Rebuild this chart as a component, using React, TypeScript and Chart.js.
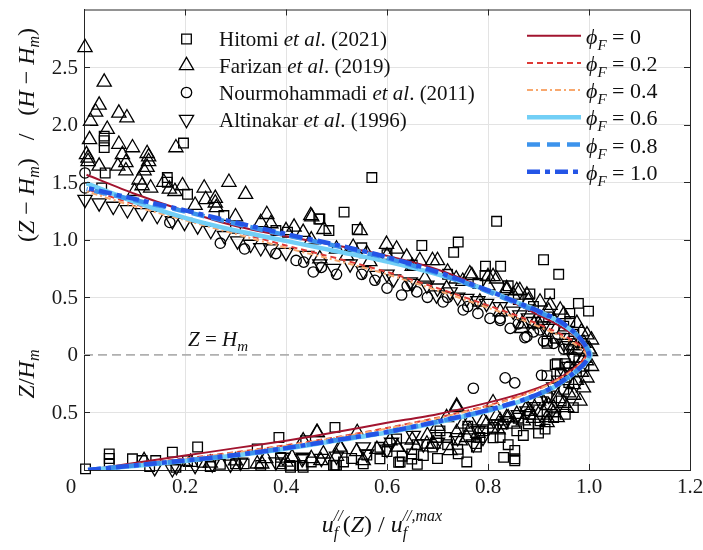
import React, { useEffect, useRef } from 'react';
import { Chart, registerables } from 'chart.js';
Chart.register(...registerables);

const FONT = "'Liberation Serif', 'Times New Roman', serif";

const xTicks = [0, 0.2, 0.4, 0.6, 0.8, 1.0, 1.2];
const xTickLabels = ['0', '0.2', '0.4', '0.6', '0.8', '1.0', '1.2'];
const yTicks = [-0.5, 0, 0.5, 1.0, 1.5, 2.0, 2.5];
const yTickLabels = ['0.5', '0', '0.5', '1.0', '1.5', '2.0', '2.5'];

const seriesNames = ['Hitomi', 'Farizan', 'Nourmohammadi', 'Altinakar'];
const seriesYears = ['(2021)', '(2019)', '(2011)', '(1996)'];

const hitomi: number[][] = [
  [0.04, 1.9], [0.04, 1.86], [0.04, 1.8], [0.042, 1.58], [0.035, 1.45], [0.165, 1.54], [0.165, 1.5],
  [0.205, 1.395], [0.197, 1.84], [0.277, 1.21], [0.465, 1.18], [0.485, 1.08], [0.403, 1.065],
  [0.515, 1.24], [0.57, 1.54], [0.467, 1.18], [0.541, 1.09], [0.817, 1.16], [0.741, 0.98],
  [0.732, 0.89], [0.669, 0.95], [0.91, 0.826], [0.94, 0.7], [0.795, 0.77], [0.825, 0.77],
  [0.794, 0.69], [0.922, 0.53], [0.883, 0.53], [0.979, 0.447], [0.999, 0.38], [0.962, 0.36],
  [0.917, 0.12], [0.933, 0.145], [0.962, 0.29], [0.97, 0.12], [0.96, 0.05], [0.98, -0.05],
  [0.937, -0.076], [0.953, -0.076], [0.943, -0.171], [0.917, -0.18], [0.917, -0.372],
  [0.969, -0.458], [0.953, -0.516], [0.9, -0.6], [0.857, -0.66], [0.831, -0.89], [0.853, -0.83],
  [0.853, -0.92], [0.758, -0.93], [0.741, -0.86], [0.81, -0.72], [0.777, -0.77], [0.883, -0.516],
  [0.93, -0.545], [0.497, -0.63], [0.434, -0.976], [0.494, -0.96], [0.514, -0.93], [0.553, -0.947],
  [0.586, -0.903], [0.586, -0.803], [0.619, -0.731], [0.623, -0.933], [0.649, -0.86], [0.672, -0.875],
  [0.649, -0.905], [0.853, -0.903], [0.784, -0.717], [0.824, -0.717], [0.777, -0.8], [0.81, -0.63],
  [0.698, -0.717], [0.718, -0.717], [0.705, -0.66], [0.903, -0.573], [0.913, -0.645], [0.917, -0.516],
  [0.933, -0.085], [0.003, -0.99], [0.05, -0.86], [0.05, -0.9], [0.05, -0.95], [0.096, -0.903],
  [0.115, -0.918], [0.142, -0.918], [0.175, -0.846], [0.182, -0.976], [0.225, -0.8], [0.205, -0.918],
  [0.234, -0.933], [0.3, -0.947], [0.317, -0.947], [0.343, -0.817], [0.386, -0.717], [0.389, -0.89],
  [0.389, -0.947], [0.409, -0.976], [0.432, -0.96], [0.439, -0.746], [0.497, -0.96], [0.626, -0.93],
  [0.408, -0.96], [0.5, -0.96], [0.917, 0.1],
  [0.76, -0.62], [0.79, -0.66], [0.83, -0.6], [0.86, -0.55], [0.88, -0.6], [0.84, -0.78], [0.87, -0.7],
  [0.9, -0.68], [0.72, -0.78], [0.74, -0.82], [0.69, -0.8], [0.66, -0.78], [0.6, -0.84], [0.56, -0.87],
  [0.53, -0.9], [0.63, -0.88], [0.7, -0.9], [0.66, -0.95], [0.45, -0.93], [0.35, -0.96], [0.27, -0.95],
  [0.25, -0.97], [0.13, -0.97], [0.95, -0.3], [0.96, -0.24], [0.975, -0.15], [0.99, -0.1], [0.945, -0.4],
  [0.95, 0.25], [0.97, 0.18], [0.985, 0.1], [0.92, 0.33], [0.89, 0.42], [0.86, 0.48], [0.84, 0.6],
  [0.78, 0.62], [0.72, 0.7], [0.65, 0.78], [0.6, 0.87], [0.55, 0.93], [0.3, 1.1], [0.38, 1.08],
];

const farizan: number[][] = [
  [0.002, 2.67], [0.04, 2.37], [0.03, 2.17], [0.023, 2.11], [0.013, 2.03], [0.069, 2.1], [0.085, 2.06],
  [0.046, 1.96], [0.011, 1.87], [0.069, 1.83], [0.096, 1.8], [0.076, 1.74], [0.005, 1.74], [0.008, 1.71],
  [0.008, 1.68], [0.083, 1.67], [0.067, 1.64], [0.03, 1.64], [0.083, 1.6], [0.125, 1.75], [0.128, 1.72],
  [0.128, 1.68], [0.125, 1.63], [0.119, 1.6], [0.109, 1.52], [0.1, 1.42], [0.115, 1.47], [0.132, 1.45],
  [0.158, 1.5], [0.169, 1.44], [0.195, 1.47], [0.182, 1.8], [0.238, 1.45], [0.287, 1.5], [0.32, 1.395],
  [0.26, 1.36], [0.26, 1.32], [0.262, 1.28], [0.241, 1.35], [0.362, 1.22], [0.37, 1.14], [0.449, 1.21],
  [0.475, 1.09], [0.416, 1.11], [0.451, 1.2], [0.547, 1.08], [0.434, 1.065], [0.533, 0.935],
  [0.599, 0.96], [0.619, 0.92], [0.639, 0.85], [0.665, 0.82], [0.69, 0.82], [0.7, 0.82], [0.764, 0.705],
  [0.8, 0.68], [0.817, 0.66], [0.837, 0.56], [0.857, 0.56], [0.877, 0.52], [0.891, 0.27], [0.868, 0.27],
  [0.9, 0.27], [0.923, 0.43], [0.467, 0.834], [0.566, 0.81], [0.52, 0.86], [0.675, 0.66], [0.737, 0.66],
  [0.718, 0.576], [0.784, 0.46], [0.824, 0.375], [0.867, 0.23], [0.768, 0.69], [0.81, 0.68],
  [0.837, 0.576], [0.863, 0.56], [0.903, 0.46], [0.943, 0.39], [0.976, 0.274], [0.996, 0.174],
  [1.005, 0.13], [1.003, 0.03], [1.005, -0.1], [0.996, -0.2], [0.989, -0.286], [0.982, -0.4],
  [0.956, -0.458], [0.937, -0.545], [0.917, -0.545], [0.877, -0.458], [0.87, -0.573], [0.837, -0.545],
  [0.797, -0.6], [0.764, -0.573], [0.738, -0.458], [0.718, -0.545], [0.725, -0.83], [0.758, -0.717],
  [0.969, -0.257], [0.738, -0.444], [0.81, -0.415], [0.461, -0.674], [0.434, -0.746], [0.541, -0.674],
  [0.745, -0.746], [0.692, -0.774], [0.679, -0.774], [0.791, -0.573], [0.824, -0.573], [0.84, -0.546],
  [0.857, -0.516], [0.883, -0.49], [0.507, -0.8], [0.474, -0.86], [0.553, -0.918], [0.606, -0.746],
  [0.738, -0.674], [0.764, -0.65], [0.817, -0.53], [0.917, -0.588], [0.93, -0.502], [0.119, -0.918],
  [0.211, -0.933], [0.343, -0.947], [0.352, -0.947], [0.412, -0.89], [0.462, -0.674], [0.469, -0.918],
  [0.508, -0.817], [0.98, 0.05], [0.99, -0.03], [0.97, -0.12], [0.95, -0.2], [0.96, -0.33],
  [0.94, -0.38], [0.92, -0.44], [0.9, -0.4], [0.95, 0.22], [0.93, 0.3], [0.97, 0.08], [0.985, 0.2],
  [0.99, 0.1], [1.0, 0.05], [0.995, -0.05], [0.985, -0.15], [0.975, -0.22], [0.97, -0.35], [0.95, -0.42],
  [0.93, -0.46], [0.91, -0.5], [0.89, -0.55], [0.85, -0.6], [0.82, -0.65], [0.78, -0.68], [0.75, -0.6],
  [0.7, -0.62], [0.68, -0.7], [0.65, -0.74], [0.62, -0.8], [0.58, -0.82], [0.54, -0.84], [0.5, -0.88],
  [0.45, -0.9], [0.4, -0.93], [0.3, -0.92], [0.25, -0.94], [0.36, -0.9],
  [0.95, 0.35], [0.92, 0.38], [0.88, 0.47], [0.85, 0.52], [0.8, 0.6], [0.75, 0.64], [0.72, 0.72],
  [0.65, 0.77], [0.6, 0.86], [0.56, 0.88], [0.5, 0.92], [0.45, 1.0], [0.4, 1.08], [0.35, 1.15],
  [0.3, 1.2], [0.22, 1.3], [0.18, 1.42],
];

const nourmohammadi: number[][] = [
  [0.002, 1.58], [0.002, 1.45], [0.17, 1.15], [0.318, 0.92], [0.454, 0.72], [0.576, 0.648],
  [0.629, 0.52], [0.659, 0.547], [0.711, 0.46], [0.751, 0.39], [0.804, 0.317], [0.824, 0.317],
  [0.844, 0.23], [0.877, 0.16], [0.903, 0.217], [0.435, 0.806], [0.824, 0.3], [0.873, 0.15],
  [0.834, -0.2], [0.853, -0.243], [0.771, -0.29], [0.906, -0.177], [0.5, 0.7], [0.38, 0.88],
  [0.27, 0.97], [0.6, 0.58], [0.68, 0.5], [0.78, 0.36], [0.91, 0.12], [0.95, 0.05],
  [0.42, 0.82], [0.47, 0.76], [0.55, 0.7], [0.64, 0.6], [0.72, 0.5], [0.76, 0.42], [0.86, 0.27],
  [0.89, 0.2], [0.93, 0.1], [0.97, -0.02], [0.96, -0.1],
];

const altinakar: number[][] = [
  [0.002, 1.35], [0.03, 1.32], [0.058, 1.29], [0.086, 1.26], [0.115, 1.235], [0.145, 1.21],
  [0.175, 1.165], [0.199, 1.15], [0.225, 1.12], [0.251, 1.08], [0.278, 1.036], [0.304, 0.99],
  [0.33, 0.96], [0.37, 0.92], [0.35, 0.93], [0.4, 0.89], [0.441, 0.864], [0.467, 0.79], [0.494, 0.75],
  [0.527, 0.79], [0.553, 0.73], [0.58, 0.69], [0.613, 0.66], [0.646, 0.634], [0.679, 0.605],
  [0.698, 0.52], [0.725, 0.547], [0.758, 0.49], [0.797, 0.447], [0.824, 0.418], [0.863, 0.347],
  [0.89, 0.289], [0.917, 0.23], [0.94, 0.15], [0.96, 0.08], [0.97, -0.03], [0.95, -0.15],
  [0.93, -0.28], [0.434, -0.89], [0.553, -0.8], [0.609, -0.76], [0.652, -0.7], [0.672, -0.774],
  [0.771, -0.774], [0.79, -0.717], [0.837, -0.573], [0.877, -0.487], [0.903, -0.4], [0.56, -0.86],
  [0.175, -0.99], [0.254, -0.947], [0.183, -0.97], [0.432, -0.903], [0.31, -0.933], [0.394, -0.89],
  [0.6, 0.7], [0.65, 0.62], [0.7, 0.58], [0.74, 0.5], [0.78, 0.47], [0.85, 0.38], [0.88, 0.32],
  [0.91, 0.25], [0.95, 0.1], [0.96, -0.1], [0.94, -0.22], [0.92, -0.35], [0.89, -0.45], [0.86, -0.52],
  [0.82, -0.6], [0.78, -0.66], [0.74, -0.72], [0.7, -0.76], [0.64, -0.8], [0.6, -0.82], [0.5, -0.88],
  [0.47, -0.9], [0.38, -0.93], [0.29, -0.95], [0.22, -0.96], [0.14, -0.98],
];

// model curves, from the bed (bottom) through the maximum to the top
const phiLabels = ['0', '0.2', '0.4', '0.6', '0.8', '1.0'];
const phi0: number[][] = [
  [0.008, -1.0], [0.1, -0.94], [0.2, -0.875], [0.3, -0.81], [0.4, -0.745], [0.5, -0.67], [0.6, -0.59],
  [0.7, -0.515], [0.8, -0.415], [0.87, -0.33], [0.92, -0.25], [0.96, -0.15], [0.985, -0.06], [0.995, 0],
  [0.99, 0.07], [0.97, 0.17], [0.93, 0.28], [0.88, 0.39], [0.82, 0.52], [0.75, 0.66], [0.68, 0.77],
  [0.6, 0.86], [0.5, 0.95], [0.4, 1.03], [0.3, 1.12], [0.2, 1.25], [0.1, 1.4], [0.005, 1.565],
];
const phi02: number[][] = [
  [0.008, -1.0], [0.1, -0.95], [0.2, -0.9], [0.3, -0.845], [0.4, -0.785], [0.5, -0.715], [0.6, -0.635],
  [0.7, -0.545], [0.8, -0.44], [0.87, -0.345], [0.92, -0.255], [0.96, -0.155], [0.985, -0.065], [0.995, 0],
  [0.99, 0.05], [0.97, 0.12], [0.93, 0.21], [0.87, 0.32], [0.8, 0.43], [0.7, 0.58], [0.6, 0.72],
  [0.5, 0.84], [0.4, 0.95], [0.3, 1.07], [0.2, 1.19], [0.1, 1.31], [0.005, 1.44],
];
const phi04: number[][] = [
  [0.008, -1.0], [0.1, -0.955], [0.2, -0.905], [0.3, -0.85], [0.4, -0.79], [0.5, -0.72], [0.6, -0.64],
  [0.7, -0.55], [0.8, -0.445], [0.87, -0.35], [0.92, -0.26], [0.96, -0.16], [0.985, -0.07], [0.995, 0],
  [0.99, 0.03], [0.97, 0.1], [0.93, 0.19], [0.87, 0.3], [0.8, 0.41], [0.7, 0.56], [0.6, 0.7],
  [0.5, 0.82], [0.4, 0.93], [0.3, 1.05], [0.2, 1.17], [0.1, 1.29], [0.005, 1.42],
];
const phi06: number[][] = [
  [0.008, -1.0], [0.1, -0.965], [0.2, -0.922], [0.3, -0.874], [0.4, -0.815], [0.5, -0.745], [0.6, -0.675],
  [0.7, -0.585], [0.8, -0.485], [0.87, -0.395], [0.92, -0.305], [0.96, -0.195], [0.99, -0.085], [1.003, 0],
  [0.995, 0.07], [0.98, 0.15], [0.96, 0.23], [0.94, 0.29], [0.9, 0.38], [0.85, 0.47], [0.8, 0.56],
  [0.7, 0.7], [0.6, 0.81], [0.5, 0.9], [0.4, 0.99], [0.3, 1.08], [0.2, 1.19], [0.1, 1.33], [0.005, 1.49],
];
const phi08: number[][] = [
  [0.008, -1.0], [0.1, -0.96], [0.2, -0.918], [0.3, -0.87], [0.4, -0.81], [0.5, -0.74], [0.6, -0.67],
  [0.7, -0.58], [0.8, -0.48], [0.87, -0.39], [0.92, -0.3], [0.96, -0.19], [0.99, -0.08], [1.0, 0],
  [0.99, 0.1], [0.97, 0.2], [0.94, 0.29], [0.9, 0.37], [0.85, 0.46], [0.8, 0.55], [0.7, 0.71],
  [0.6, 0.84], [0.5, 0.945], [0.4, 1.04], [0.3, 1.14], [0.2, 1.245], [0.1, 1.345], [0.005, 1.44],
];
const phi10: number[][] = [
  [0.008, -1.0], [0.1, -0.96], [0.2, -0.918], [0.3, -0.87], [0.4, -0.81], [0.5, -0.74], [0.6, -0.67],
  [0.7, -0.58], [0.8, -0.48], [0.87, -0.39], [0.92, -0.3], [0.96, -0.19], [0.99, -0.08], [1.0, 0],
  [0.99, 0.1], [0.97, 0.2], [0.94, 0.3], [0.9, 0.38], [0.85, 0.47], [0.8, 0.56], [0.7, 0.72],
  [0.6, 0.85], [0.5, 0.955], [0.4, 1.05], [0.3, 1.15], [0.2, 1.255], [0.1, 1.355], [0.005, 1.45],
];
const refLineX = [0, 1.2];
const refLineY = [0, 0];

const curveData = [phi0, phi02, phi04, phi06, phi08, phi10];
const curveStyles = [
  { color: '#A2142F', width: 2, dash: [] as number[] },
  { color: '#DE3A36', width: 2, dash: [6, 4] },
  { color: '#F8A86E', width: 2, dash: [6, 3, 2, 3] },
  { color: '#72CFF6', width: 4.5, dash: [] as number[] },
  { color: '#3C93EC', width: 4.5, dash: [13, 7] },
  { color: '#2455E6', width: 4.5, dash: [13, 5, 5, 5] },
];

const markerStyles = [
  { style: 'rect', radius: 6.8, rotation: 0 },
  { style: 'triangle', radius: 8.2, rotation: 0 },
  { style: 'circle', radius: 5.2, rotation: 0 },
  { style: 'triangle', radius: 8.2, rotation: 180 },
];

type Run = { t: string; it?: boolean; sz?: number; dy?: number; stack?: boolean };

function drawRuns(ctx: CanvasRenderingContext2D, runs: Run[], x: number, y: number, base: number, align: 'left' | 'center') {
  let pos = 0, prevStart = 0, prevW = 0;
  const placed: { r: Run; x: number }[] = [];
  for (const r of runs) {
    ctx.font = `${r.it ? 'italic ' : ''}${r.sz || base}px ${FONT}`;
    const w = ctx.measureText(r.t).width;
    if (r.stack) {
      placed.push({ r, x: prevStart });
      pos = prevStart + Math.max(prevW, w);
      prevW = Math.max(prevW, w);
    } else {
      placed.push({ r, x: pos });
      prevStart = pos;
      prevW = w;
      pos += w;
    }
  }
  const x0 = align === 'center' ? x - pos / 2 : x;
  for (const p of placed) {
    ctx.font = `${p.r.it ? 'italic ' : ''}${p.r.sz || base}px ${FONT}`;
    ctx.fillText(p.r.t, x0 + p.x, y + (p.r.dy || 0));
  }
}

function drawMarker(ctx: CanvasRenderingContext2D, i: number, x: number, y: number) {
  const m = markerStyles[i];
  ctx.beginPath();
  if (m.style === 'rect') {
    const s = Math.SQRT1_2 * m.radius;
    ctx.rect(x - s, y - s, 2 * s, 2 * s);
  } else if (m.style === 'circle') {
    ctx.arc(x, y, m.radius, 0, Math.PI * 2);
  } else {
    const r = m.radius;
    const sgn = m.rotation ? -1 : 1;
    ctx.moveTo(x, y - sgn * r);
    ctx.lineTo(x + r * Math.cos(Math.PI / 6), y + sgn * r / 2);
    ctx.lineTo(x - r * Math.cos(Math.PI / 6), y + sgn * r / 2);
    ctx.closePath();
  }
  ctx.stroke();
}

const overlay = {
  id: 'overlay',
  afterDraw(chart: any) {
    const ctx: CanvasRenderingContext2D = chart.ctx;
    const a = chart.chartArea;
    const xs = chart.scales.x;
    const ys = chart.scales.y;
    ctx.save();
    ctx.strokeStyle = '#262626';
    ctx.lineWidth = 1;
    ctx.beginPath();
    ctx.moveTo(a.left, a.top + 0.5);
    ctx.lineTo(a.right + 0.5, a.top + 0.5);
    ctx.lineTo(a.right + 0.5, a.bottom);
    for (const v of xTicks) {
      const px = Math.round(xs.getPixelForValue(v)) + 0.5;
      ctx.moveTo(px, a.top); ctx.lineTo(px, a.top + 6);
      ctx.moveTo(px, a.bottom); ctx.lineTo(px, a.bottom - 6);
    }
    for (const v of yTicks) {
      const py = Math.round(ys.getPixelForValue(v)) + 0.5;
      ctx.moveTo(a.left, py); ctx.lineTo(a.left + 6, py);
      ctx.moveTo(a.right, py); ctx.lineTo(a.right - 6, py);
    }
    ctx.stroke();

    // tick labels
    ctx.fillStyle = '#1a1a1a';
    ctx.font = `21px ${FONT}`;
    ctx.textAlign = 'center';
    ctx.textBaseline = 'top';
    xTicks.forEach((v, i) => {
      const shift = i === 0 ? -13 : 0; // the "0" sits left of its tick in the source figure
      ctx.fillText(xTickLabels[i], xs.getPixelForValue(v) + shift, a.bottom + 7);
    });
    ctx.textAlign = 'right';
    ctx.textBaseline = 'middle';
    yTicks.forEach((v, i) => {
      ctx.fillText(yTickLabels[i], a.left - 6, ys.getPixelForValue(v) + 1);
    });
    ctx.textAlign = 'left';

    ctx.fillStyle = '#111';
    ctx.textBaseline = 'alphabetic';
    drawRuns(ctx, [{ t: 'Z', it: true }, { t: ' = ' }, { t: 'H', it: true }, { t: 'm', it: true, sz: 15, dy: 5 }], 188, 346, 21, 'left');

    drawRuns(ctx, [
      { t: 'u', it: true }, { t: 'f', it: true, sz: 16, dy: 6 }, { t: '//', it: true, sz: 16, dy: -11, stack: true },
      { t: '(' }, { t: 'Z', it: true }, { t: ') / ' },
      { t: 'u', it: true }, { t: 'f', it: true, sz: 16, dy: 6 }, { t: '//,max', it: true, sz: 16, dy: -11, stack: true },
    ], 382, 532, 24, 'center');

    ctx.save();
    ctx.translate(34, 135);
    ctx.rotate(-Math.PI / 2);
    drawRuns(ctx, [
      { t: '(' }, { t: 'Z', it: true }, { t: ' \u2212 ' }, { t: 'H', it: true }, { t: 'm', it: true, sz: 16, dy: 5 },
      { t: ')   /   (' }, { t: 'H', it: true }, { t: ' \u2212 ' }, { t: 'H', it: true }, { t: 'm', it: true, sz: 16, dy: 5 }, { t: ')' },
    ], 0, 0, 24, 'center');
    ctx.restore();
    ctx.save();
    ctx.translate(34, 374);
    ctx.rotate(-Math.PI / 2);
    drawRuns(ctx, [{ t: 'Z', it: true }, { t: '/' }, { t: 'H', it: true }, { t: 'm', it: true, sz: 16, dy: 5 }], 0, 0, 24, 'center');
    ctx.restore();

    const rowY = [39, 65.5, 92.5, 119.5];
    ctx.strokeStyle = '#000';
    ctx.lineWidth = 1.3;
    for (let i = 0; i < 4; i++) {
      drawMarker(ctx, i, 186.5, rowY[i]);
      ctx.fillStyle = '#111';
      drawRuns(ctx, [{ t: seriesNames[i] + ' ' }, { t: 'et al', it: true }, { t: '. ' + seriesYears[i] }], 219, rowY[i] + 7, 21, 'left');
    }

    for (let i = 0; i < 6; i++) {
      const y = 35.7 + 27.2 * i;
      const st = curveStyles[i];
      ctx.strokeStyle = st.color;
      ctx.lineWidth = st.width;
      ctx.setLineDash(st.dash);
      ctx.beginPath();
      ctx.moveTo(527, y); ctx.lineTo(581, y);
      ctx.stroke();
      ctx.setLineDash([]);
      ctx.fillStyle = '#111';
      drawRuns(ctx, [{ t: '\u03D5', it: true }, { t: 'F', it: true, sz: 15, dy: 6 }, { t: ' = ' + phiLabels[i] }], 586, y + 8, 22, 'left');
    }
    ctx.restore();
  },
};

export default function App() {
  const ref = useRef<HTMLCanvasElement>(null);
  useEffect(() => {
    if (!ref.current) return;
    const toXY = (arr: number[][]) => arr.map((p) => ({ x: p[0], y: p[1] }));
    const pointSets = [hitomi, farizan, nourmohammadi, altinakar];
    const datasets: any[] = [];
    datasets.push({
      label: 'ref',
      data: refLineX.map((x, i) => ({ x, y: refLineY[i] })),
      showLine: true,
      pointRadius: 0,
      borderColor: '#b0b0b0',
      borderWidth: 1.8,
      borderDash: [9, 5],
      order: 30,
    });
    pointSets.forEach((set, i) => {
      const m = markerStyles[i];
      datasets.push({
        label: seriesNames[i],
        data: toXY(set),
        showLine: false,
        pointStyle: m.style,
        pointRadius: m.radius,
        pointRotation: m.rotation,
        pointBorderColor: '#000',
        pointBackgroundColor: 'rgba(0,0,0,0)',
        pointBorderWidth: 1.3,
        borderColor: '#000',
        backgroundColor: 'rgba(0,0,0,0)',
        clip: false,
        order: 20 - i,
      });
    });
    curveData.forEach((c, i) => {
      const st = curveStyles[i];
      datasets.push({
        label: 'phi ' + phiLabels[i],
        data: toXY(c),
        showLine: true,
        pointRadius: 0,
        borderColor: st.color,
        borderWidth: st.width,
        borderDash: st.dash,
        borderCapStyle: 'butt',
        borderJoinStyle: 'round',
        tension: 0.25,
        fill: false,
        order: 6 - i,
      });
    });

    const chart = new Chart(ref.current, {
      type: 'scatter',
      data: { datasets },
      options: {
        animation: false,
        responsive: false,
        events: [],
        layout: { padding: { left: 0, right: 13, top: 5, bottom: 0 } },
        plugins: { legend: { display: false }, tooltip: { enabled: false } },
        scales: {
          x: {
            type: 'linear',
            min: 0,
            max: 1.2,
            afterBuildTicks: (s: any) => { s.ticks = xTicks.map((v) => ({ value: v })); },
            afterFit: (s: any) => { s.height = 80; },
            ticks: { display: false },
            grid: { color: '#e3e3e3', lineWidth: 1, drawTicks: false },
            border: { color: '#262626', width: 1 },
          },
          y: {
            type: 'linear',
            min: -1,
            max: 3,
            afterBuildTicks: (s: any) => { s.ticks = yTicks.map((v) => ({ value: v })); },
            afterFit: (s: any) => { s.width = 84; },
            ticks: { display: false },
            grid: {
              color: (c: any) => (c.tick && c.tick.value === 0 ? 'rgba(0,0,0,0)' : '#e3e3e3'),
              lineWidth: 1,
              drawTicks: false,
            },
            border: { color: '#262626', width: 1 },
          },
        },
      },
      plugins: [overlay],
    } as any);
    return () => chart.destroy();
  }, []);
  return (
    <div style={{ position: 'fixed', left: 0, top: 0, width: 703, height: 550, background: '#fff' }}>
      <canvas ref={ref} width={703} height={550} />
    </div>
  );
}
